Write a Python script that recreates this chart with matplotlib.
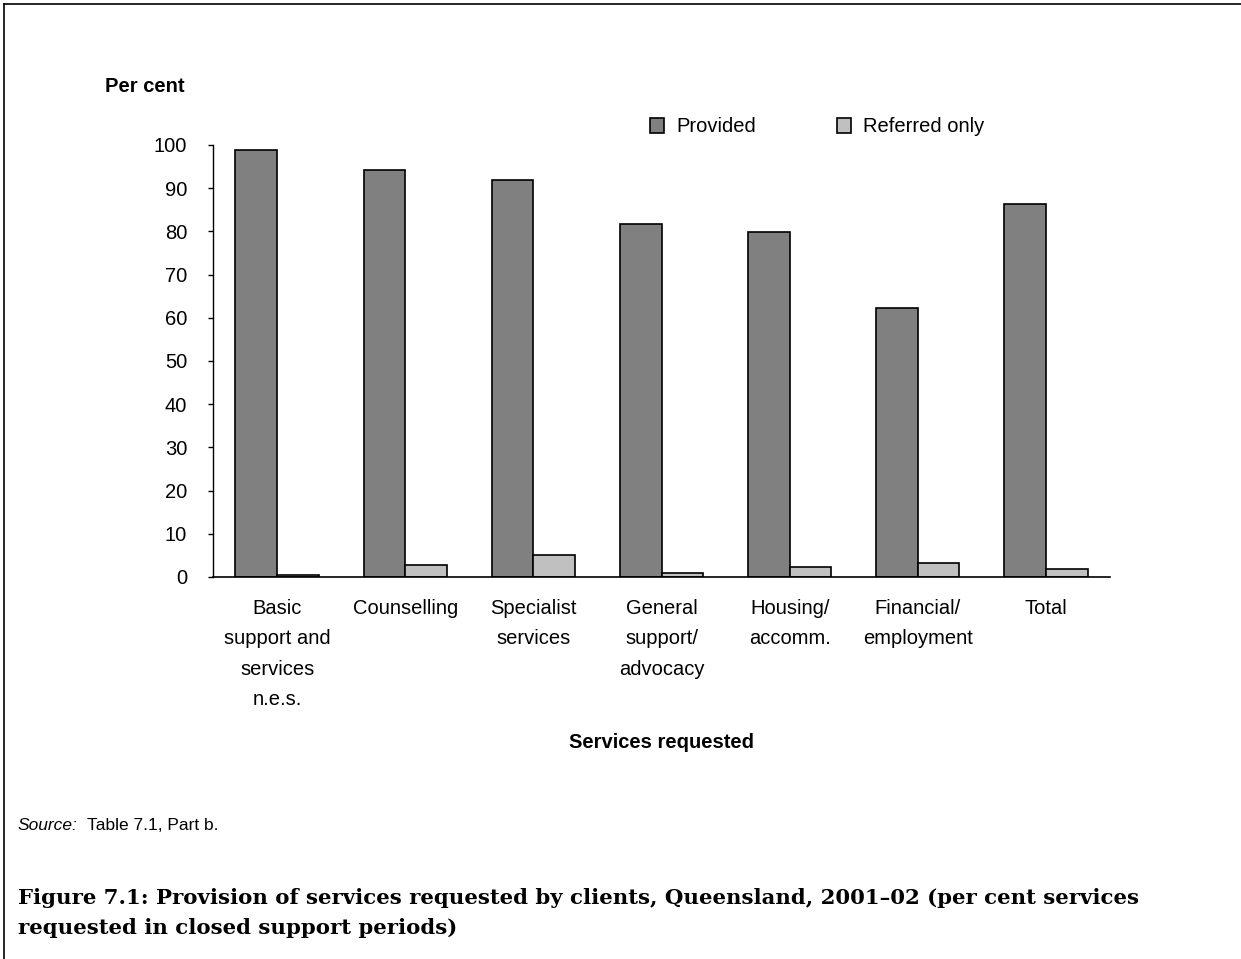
import matplotlib.pyplot as plt
from matplotlib.lines import Line2D
import numpy as np

# Data
categories = ['Basic\nsupport and\nservices\nn.e.s.', 'Counselling', 'Specialist\nservices',
              'General\nsupport/\nadvocacy', 'Housing/\naccomm.', 'Financial/\nemployment', 'Total']
provided = [98.8, 94.2, 91.9, 81.7, 79.9, 62.3, 86.3]
referred = [0.4, 2.8, 5.2, 1.0, 2.2, 3.2, 1.8]
yticks = [0, 10, 20, 30, 40, 50, 60, 70, 80, 90, 100]

plt.rcParams['font.family'] = ['Liberation Sans', 'DejaVu Sans']

W, H = 1241, 959
fig = plt.figure(figsize=(W / 100, H / 100), dpi=100)
ax = fig.add_axes([213 / W, 1 - 577 / H, (1110 - 213) / W, (577 - 145) / H])

x = np.arange(len(categories))
bw = 0.325
ax.bar(x - bw / 2, provided, bw, color='#808080', edgecolor='black', linewidth=1.2, label='Provided')
ax.bar(x + bw / 2, referred, bw, color='#c0c0c0', edgecolor='black', linewidth=1.2, label='Referred only')

ax.set_xlim(-0.5, len(categories) - 0.5)
ax.set_ylim(0, 100)
ax.set_yticks(yticks)
ax.tick_params(axis='y', labelsize=14.5, length=3.6, width=1, pad=15)
ax.set_xticks(x)
ax.set_xticklabels(categories, fontsize=14.5, linespacing=1.75)
ax.tick_params(axis='x', length=0, pad=16)
for s in ['top', 'right']:
    ax.spines[s].set_visible(False)
ax.spines['left'].set_linewidth(1)
ax.spines['bottom'].set_linewidth(1.2)

ax.set_xlabel('Services requested', fontsize=14.5, fontweight='bold', labelpad=17)
fig.text(105 / W, 1 - 86 / H, 'Per cent', fontsize=14.5, fontweight='bold', va='center', ha='left')

ax.legend(loc='center', bbox_to_anchor=((817 - 213) / (1110 - 213), (577 - 127) / (577 - 145)),
          ncol=2, frameon=False, fontsize=14.5, handlelength=0.7, handleheight=0.7,
          columnspacing=4.0, handletextpad=0.6)

fig.text(18 / W, 1 - 826 / H, 'Source:', fontsize=12.5, style='italic', va='center')
fig.text(87 / W, 1 - 826 / H, 'Table 7.1, Part b.', fontsize=12.5, va='center')

fig.text(18 / W, 1 - 913 / H,
         'Figure 7.1: Provision of services requested by clients, Queensland, 2001\u201302 (per cent services\n'
         'requested in closed support periods)',
         fontsize=15.3, fontweight='bold', family='DejaVu Serif', va='center', linespacing=1.65)

# page border (top and left)
fig.add_artist(Line2D([4 / W, 1], [1 - 4 / H, 1 - 4 / H], color='black', linewidth=1.2))
fig.add_artist(Line2D([4 / W, 4 / W], [0, 1 - 4 / H], color='black', linewidth=1.2))

fig.savefig('out.png', dpi=100)
